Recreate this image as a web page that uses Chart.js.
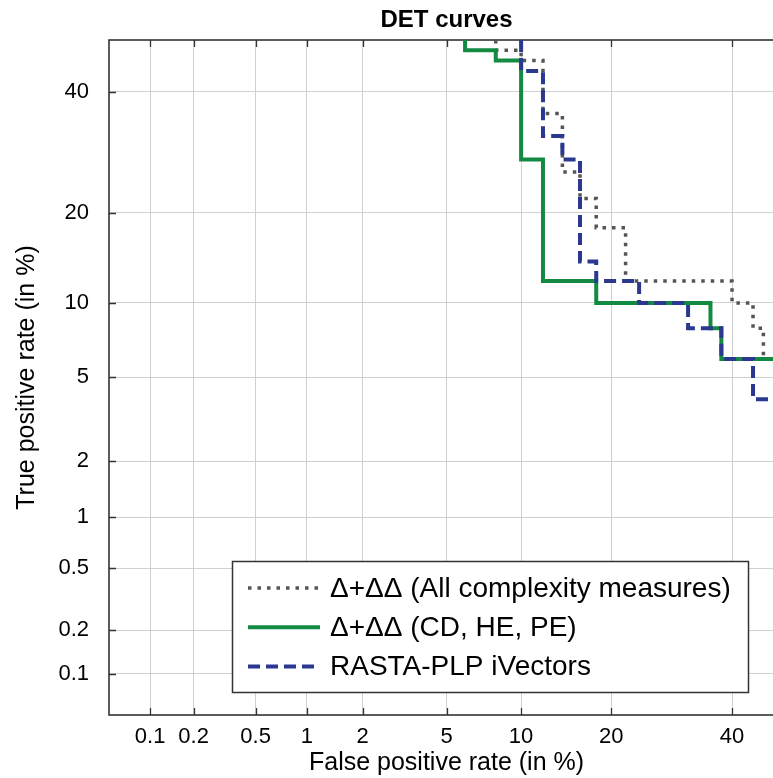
<!DOCTYPE html>
<html><head><meta charset="utf-8">
<script src="https://cdn.jsdelivr.net/npm/chart.js@4.4.1/dist/chart.umd.min.js"></script>
<style>
html,body{margin:0;padding:0;background:#fff;overflow:hidden;width:773px;height:778px}
#wrap{position:absolute;left:0;top:0;width:800px;height:778px}
</style>
</head><body>
<div id="wrap"><canvas id="c" width="800" height="778"></canvas></div>
<script>
// ---- data (all rates in %) ----
const axisMinPct = 0.05;
const axisMaxPct = 50;
const xTickValues = [0.1, 0.2, 0.5, 1, 2, 5, 10, 20, 40];
const xTickLabels = ['0.1', '0.2', '0.5', '1', '2', '5', '10', '20', '40'];
const yTickValues = [0.1, 0.2, 0.5, 1, 2, 5, 10, 20, 40];
const yTickLabels = ['0.1', '0.2', '0.5', '1', '2', '5', '10', '20', '40'];

const seriesNames = ['\u0394+\u0394\u0394 (All complexity measures)', '\u0394+\u0394\u0394 (CD, HE, PE)', 'RASTA-PLP iVectors'];

const allMeasuresFPR = [8, 8, 10, 12, 14, 16, 18, 22, 40, 44, 46, 50];
const allMeasuresTPR = [50, 48, 46, 36, 26, 22, 18, 12, 10, 8, 6, 6];

const cdHePeFPR = [6, 6, 8, 10, 12, 18, 36, 38, 50];
const cdHePeTPR = [50, 48, 46, 28, 12, 10, 8, 6, 6];

const rastaFPR = [10, 10, 12, 14, 16, 18, 24, 32, 38, 44, 50];
const rastaTPR = [50, 44, 32, 28, 14, 12, 10, 8, 6, 4, 4];

// ---- normal deviate (probit) transform used by DET plots ----
function probit(p) {
  const a = [-3.969683028665376e+01, 2.209460984245205e+02, -2.759285104469687e+02, 1.383577518672690e+02, -3.066479806614716e+01, 2.506628277459239e+00];
  const b = [-5.447609879822406e+01, 1.615858368580409e+02, -1.556989798598866e+02, 6.680131188771972e+01, -1.328068155288572e+01];
  const c = [-7.784894002430293e-03, -3.223964580411365e-01, -2.400758277161838e+00, -2.549732539343734e+00, 4.374664141464968e+00, 2.938163982698783e+00];
  const d = [7.784695709041462e-03, 3.224671290700398e-01, 2.445134137142996e+00, 3.754408661907416e+00];
  const pl = 0.02425, ph = 1 - pl;
  let q, r;
  if (p < pl) {
    q = Math.sqrt(-2 * Math.log(p));
    return (((((c[0]*q+c[1])*q+c[2])*q+c[3])*q+c[4])*q+c[5]) / ((((d[0]*q+d[1])*q+d[2])*q+d[3])*q+1);
  }
  if (p <= ph) {
    q = p - 0.5; r = q * q;
    return (((((a[0]*r+a[1])*r+a[2])*r+a[3])*r+a[4])*r+a[5])*q / (((((b[0]*r+b[1])*r+b[2])*r+b[3])*r+b[4])*r+1);
  }
  q = Math.sqrt(-2 * Math.log(1 - p));
  return -(((((c[0]*q+c[1])*q+c[2])*q+c[3])*q+c[4])*q+c[5]) / ((((d[0]*q+d[1])*q+d[2])*q+d[3])*q+1);
}
const toPoints = (fpr, tpr) => fpr.map((f, i) => ({ x: probit(f / 100), y: probit(tpr[i] / 100) }));

const FONT = '"Liberation Sans", Arial, Helvetica, sans-serif';
const AXIS_COLOR = '#333333';

const frameAndTicks = {
  id: 'frameAndTicks',
  beforeDatasetsDraw(chart) {
    const { ctx, chartArea: ca, scales } = chart;
    ctx.save();
    ctx.strokeStyle = AXIS_COLOR;
    ctx.lineWidth = 1.3;
    const tl = 7;
    ctx.beginPath();
    scales.x.ticks.forEach(t => {
      const px = Math.round(scales.x.getPixelForValue(t.value)) + 0.5;
      ctx.moveTo(px, ca.bottom); ctx.lineTo(px, ca.bottom - tl);
      ctx.moveTo(px, ca.top); ctx.lineTo(px, ca.top + tl);
    });
    scales.y.ticks.forEach(t => {
      const py = Math.round(scales.y.getPixelForValue(t.value)) + 0.5;
      ctx.moveTo(ca.left, py); ctx.lineTo(ca.left + tl, py);
      ctx.moveTo(ca.right, py); ctx.lineTo(ca.right - tl, py);
    });
    ctx.stroke();
    ctx.lineWidth = 1.6;
    ctx.strokeRect(ca.left, ca.top, ca.right - ca.left, ca.bottom - ca.top);
    ctx.restore();
  }
};

const titleAndLegend = {
  id: 'titleAndLegend',
  afterDraw(chart) {
    const { ctx, chartArea: ca } = chart;
    ctx.save();
    // title
    ctx.fillStyle = '#000';
    ctx.font = 'bold 24px ' + FONT;
    ctx.textAlign = 'center';
    ctx.textBaseline = 'middle';
    ctx.fillText('DET curves', (ca.left + ca.right) / 2, 20);
    // legend box
    const bx = 232.5, by = 561.5, bw = 516, bh = 131;
    ctx.fillStyle = '#fff';
    ctx.fillRect(bx, by, bw, bh);
    ctx.strokeStyle = AXIS_COLOR;
    ctx.lineWidth = 1.5;
    ctx.strokeRect(bx, by, bw, bh);
    ctx.textAlign = 'left';
    ctx.font = '28px ' + FONT;
    chart.data.datasets.forEach((ds, i) => {
      const y = 588 + i * 39.3;
      ctx.strokeStyle = ds.borderColor;
      ctx.lineWidth = ds.borderWidth;
      ctx.setLineDash(ds.borderDash || []);
      ctx.beginPath(); ctx.moveTo(248, y); ctx.lineTo(320, y); ctx.stroke();
      ctx.setLineDash([]);
      ctx.fillStyle = '#000';
      ctx.fillText(ds.label, 330, y + 1);
    });
    ctx.restore();
  }
};

const lineCommon = { fill: false, pointRadius: 0, tension: 0, stepped: 'before' };

new Chart(document.getElementById('c'), {
  type: 'line',
  data: {
    datasets: [
      Object.assign({ label: seriesNames[0], data: toPoints(allMeasuresFPR, allMeasuresTPR),
        borderColor: '#555555', borderWidth: 3.5, borderDash: [3.5, 6], order: 3 }, lineCommon),
      Object.assign({ label: seriesNames[1], data: toPoints(cdHePeFPR, cdHePeTPR),
        borderColor: '#128a42', borderWidth: 4, order: 2 }, lineCommon),
      Object.assign({ label: seriesNames[2], data: toPoints(rastaFPR, rastaTPR),
        borderColor: '#2a3890', borderWidth: 4, borderDash: [12, 6], order: 1 }, lineCommon)
    ]
  },
  options: {
    responsive: false,
    animation: false,
    devicePixelRatio: 1,
    layout: { padding: { top: 40, right: 16, bottom: 0, left: 0 } },
    plugins: { legend: { display: false }, title: { display: false }, tooltip: { enabled: false } },
    scales: {
      x: {
        type: 'linear',
        min: probit(axisMinPct / 100),
        max: probit(axisMaxPct / 100),
        afterBuildTicks: s => { s.ticks = xTickValues.map(v => ({ value: probit(v / 100) })); },
        afterFit: s => { s.height = 63; },
        ticks: { callback: (v, i) => xTickLabels[i], font: { family: FONT, size: 22 }, color: '#000', padding: 9, maxRotation: 0, autoSkip: false },
        grid: { color: '#d0d0d0', lineWidth: 1, drawTicks: false },
        border: { display: false },
        title: { display: true, text: 'False positive rate (in %)', font: { family: FONT, size: 25 }, color: '#000', padding: { top: 0, bottom: 0 } }
      },
      y: {
        type: 'linear',
        min: probit(axisMinPct / 100),
        max: probit(axisMaxPct / 100),
        afterBuildTicks: s => { s.ticks = yTickValues.map(v => ({ value: probit(v / 100) })); },
        afterFit: s => { s.width = 109; },
        ticks: { callback: (v, i) => yTickLabels[i], font: { family: FONT, size: 22 }, color: '#000', padding: 20, autoSkip: false },
        grid: { color: '#d0d0d0', lineWidth: 1, drawTicks: false },
        border: { display: false },
        title: { display: true, text: 'True positive rate (in %)', font: { family: FONT, size: 25 }, color: '#000', padding: { top: 12, bottom: 0 } }
      }
    }
  },
  plugins: [frameAndTicks, titleAndLegend]
});
</script>
</body></html>
